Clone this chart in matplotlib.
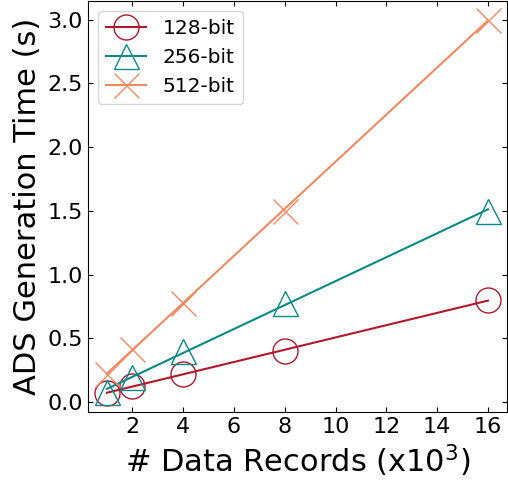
import numpy as np
import matplotlib
matplotlib.use("Agg")
import matplotlib.pyplot as plt
from matplotlib.lines import Line2D

records = [1, 2, 4, 8, 16]
t128 = [0.07, 0.13, 0.22, 0.40, 0.80]
t256 = [0.08, 0.20, 0.40, 0.78, 1.50]
t512 = [0.22, 0.42, 0.78, 1.50, 3.00]
labels = ["128-bit", "256-bit", "512-bit"]

colors = ["#b2182b", "#0a8a87", "#ef8a62"]
markers = ["o", "^", "x"]

fig = plt.figure(figsize=(5.08, 4.8), dpi=100)
ax = fig.add_axes([0.173, 0.142, 0.825, 0.856])

handles = []
for ys, c, m, lab in zip([t128, t256, t512], colors, markers, labels):
    x = np.array(records, dtype=float)
    y = np.array(ys)
    ax.plot(x, y, linestyle="none", marker=m, markersize=18,
            markerfacecolor="none", markeredgecolor=c, markeredgewidth=1.0)
    k, b = np.polyfit(x, y, 1)
    xf = np.array([x.min(), x.max()])
    ax.plot(xf, k * xf + b, color=c, linewidth=1.5)
    handles.append(Line2D([], [], color=c, linewidth=1.5, marker=m, markersize=18,
                          markerfacecolor="none", markeredgecolor=c, markeredgewidth=1.0,
                          label=lab))

ax.set_xticks([2, 4, 6, 8, 10, 12, 14, 16])
ax.set_yticks([0.0, 0.5, 1.0, 1.5, 2.0, 2.5, 3.0])
ax.set_yticklabels(["0.0", "0.5", "1.0", "1.5", "2.0", "2.5", "3.0"])
ax.tick_params(direction="in", top=True, right=True, labelsize=16)
ax.set_xlabel("# Data Records (x10$^3$)", fontsize=22)
ax.set_ylabel("ADS Generation Time (s)", fontsize=22)
ax.legend(handles=handles, loc="upper left", fontsize=14.5)

fig.savefig("out.png", dpi=100)
